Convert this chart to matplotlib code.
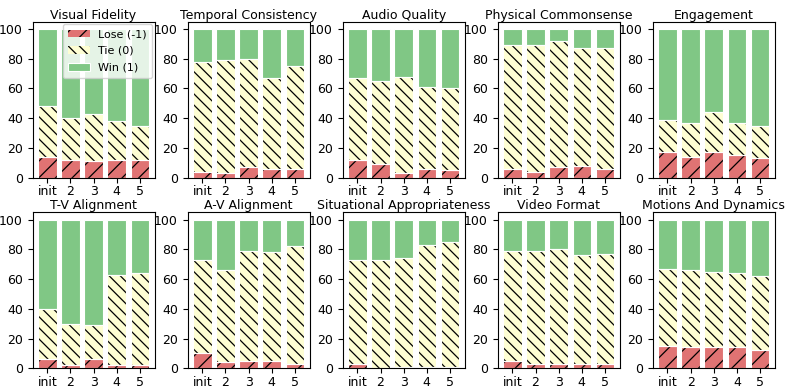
import matplotlib
matplotlib.use('Agg')
import matplotlib.pyplot as plt
import numpy as np

rounds = ['init', '2', '3', '4', '5']
titles = ['Visual Fidelity', 'Temporal Consistency', 'Audio Quality', 'Physical Commonsense', 'Engagement',
          'T-V Alignment', 'A-V Alignment', 'Situational Appropriateness', 'Video Format', 'Motions And Dynamics']

# percentage of "lose" per round
lose = [
    [14, 12, 11, 12, 12],
    [4, 3, 7, 6, 6],
    [12, 9, 3, 6, 5],
    [6, 4, 7, 8, 6],
    [17, 14, 17, 15, 13],
    [6, 2, 6, 2, 2],
    [10, 4, 5, 5, 3],
    [3, 0, 1, 1, 1],
    [5, 3, 3, 3, 3],
    [15, 14, 14, 14, 12],
]
# lose + tie (top of the tie segment)
lose_tie = [
    [48, 40, 43, 38, 35],
    [78, 79, 80, 67, 75],
    [67, 65, 68, 61, 60],
    [89, 89, 92, 87, 87],
    [39, 37, 44, 37, 35],
    [40, 30, 29, 63, 64],
    [73, 66, 79, 78, 82],
    [73, 73, 74, 83, 85],
    [79, 79, 80, 76, 77],
    [67, 66, 65, 64, 62],
]

lose_color = '#e07373'
tie_color = '#fefed3'
win_color = '#80c785'

plt.rcParams['hatch.linewidth'] = 0.9

fig, axes = plt.subplots(2, 5, figsize=(7.93, 3.91), dpi=100)
plt.subplots_adjust(left=0.041, right=0.977, top=0.945, bottom=0.058, wspace=0.27, hspace=0.22)

x = np.arange(len(rounds))
for i, ax in enumerate(axes.flat):
    l = np.array(lose[i])
    t = np.array(lose_tie[i]) - l
    w = 100 - l - t
    # filled + black hatch, no outline
    ax.bar(x, l, width=0.8, color=lose_color, edgecolor='black', lw=0, hatch='//', label='Lose (-1)')
    ax.bar(x, t, width=0.8, bottom=l, color=tie_color, edgecolor='black', lw=0, hatch='\\\\\\', label='Tie (0)')
    ax.bar(x, w, width=0.8, bottom=l + t, color=win_color, edgecolor='white', lw=0.8, label='Win (1)')
    # white outlines on top
    ax.bar(x, l, width=0.8, fill=False, edgecolor='white', lw=0.8)
    ax.bar(x, t, width=0.8, bottom=l, fill=False, edgecolor='white', lw=0.8)
    ax.set_xticks(x)
    ax.set_xticklabels(rounds, fontsize=9)
    ax.set_yticks([0, 20, 40, 60, 80, 100])
    ax.tick_params(axis='y', labelsize=9)
    ax.tick_params(axis='x', pad=2)
    ax.set_title(titles[i], fontsize=9, pad=2)
    if i == 0:
        ax.legend(loc='upper right', fontsize=8, framealpha=0.8, handlelength=2.0,
                  borderaxespad=0.2, borderpad=0.5, labelspacing=0.6, handletextpad=0.7)

fig.savefig('out.png', dpi=100)
